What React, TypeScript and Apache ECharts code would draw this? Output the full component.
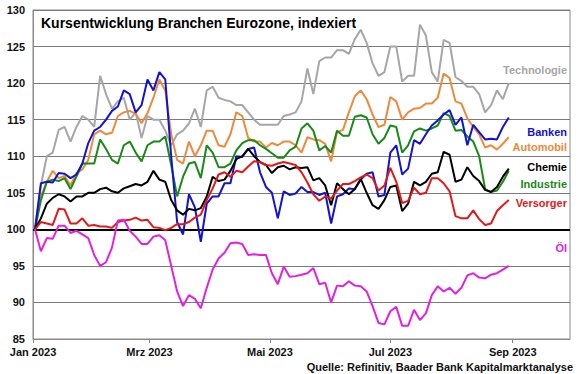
import React, { useEffect, useRef } from "react";
import * as echarts from "echarts";

const sampleDates = [
  "2023-01-02", "2023-01-05", "2023-01-08", "2023-01-11", "2023-01-14", "2023-01-17", "2023-01-20", "2023-01-23", "2023-01-26", "2023-01-29",
  "2023-02-01", "2023-02-04", "2023-02-07", "2023-02-10", "2023-02-13", "2023-02-16", "2023-02-19", "2023-02-22", "2023-02-25", "2023-02-28",
  "2023-03-03", "2023-03-06", "2023-03-09", "2023-03-12", "2023-03-15", "2023-03-18", "2023-03-21", "2023-03-24", "2023-03-27", "2023-03-30",
  "2023-04-02", "2023-04-05", "2023-04-08", "2023-04-11", "2023-04-14", "2023-04-17", "2023-04-20", "2023-04-23", "2023-04-26", "2023-04-29",
  "2023-05-02", "2023-05-05", "2023-05-08", "2023-05-11", "2023-05-14", "2023-05-17", "2023-05-20", "2023-05-23", "2023-05-26", "2023-05-29",
  "2023-06-01", "2023-06-04", "2023-06-07", "2023-06-10", "2023-06-13", "2023-06-16", "2023-06-19", "2023-06-22", "2023-06-25", "2023-06-28",
  "2023-07-01", "2023-07-04", "2023-07-07", "2023-07-10", "2023-07-13", "2023-07-16", "2023-07-19", "2023-07-22", "2023-07-25", "2023-07-28",
  "2023-07-31", "2023-08-03", "2023-08-06", "2023-08-09", "2023-08-12", "2023-08-15", "2023-08-18", "2023-08-21", "2023-08-24", "2023-08-27",
  "2023-08-30",
];

const technologie = [
  100, 106, 110, 110.5, 113.6, 114, 112, 114, 115.5, 115,
  114, 121, 118.5, 116.5, 117.5, 118, 115, 116, 112.5, 115.5,
  115, 115, 113.5, 111.5, 113, 113.5, 114.5, 116.5, 114, 119,
  119.5, 118, 117.7, 117.5, 117, 117, 116, 115, 114.3, 114.3,
  114.3, 114.3, 115.5, 115.7, 116, 117.5, 122, 118.5, 123, 123.5,
  123.5, 124.5, 124.5, 124, 126, 127.3, 125.5, 122.7, 121, 121.5,
  125, 125, 120.2, 121, 121, 128, 126.5, 121.5, 120.2, 125.9,
  125.5, 120.8, 120.3, 119.5, 119.5, 118.5, 116, 117, 119, 117.8,
  120,
];

const banken = [
  100, 106.3, 106.5, 106.4, 107.7, 107.6, 107, 107.5, 109, 111.8,
  113.5, 114, 115, 116.2, 116.8, 119, 118.5, 116, 117, 120.5,
  119, 121.5, 120.5, 110, 101, 99.3, 104.8, 103, 98.3, 103.5,
  104.5, 104.5, 106.3, 106.3, 110, 109.9, 111, 111.2, 107.8, 105.8,
  105, 101.5, 105.2, 104.7, 104.9, 105.8, 105.1, 105.1, 104.7, 105,
  100.8, 104.5, 104.8, 105.6, 105.5, 106.8, 107.6, 107.8, 104.5, 104.7,
  110.5, 111.5, 107.5, 108.3, 112.2, 111.7, 113, 114.2, 114.9, 115.7,
  116.3, 114.3, 115.3, 111.5, 114.3, 113.3, 112.3, 112.4, 112.3, 114,
  115.3,
];

const automobil = [
  100, 104.5, 106.5, 108, 107, 107.3, 106, 107.7, 108.2, 109.5,
  113, 113.5, 113, 113.2, 115.5, 116, 116.2, 115.8, 114.5, 115.9,
  118, 120.5, 119, 113, 109.5, 109, 112, 110, 111.5, 113.5,
  113.5, 111.5, 111.3, 113, 116, 115.5, 112.5, 112, 112, 111.2,
  111.8, 111.5, 112, 112, 111.5, 110.5, 112.6, 112.3, 112.2, 111.7,
  109.3, 113.3, 113.6, 116, 118.2, 119, 117.8, 115.7, 114, 114.3,
  118.1, 117.5, 115, 116, 116.5, 116.6, 117.2, 117.2, 118, 121.3,
  120.7, 117.5, 117.2, 115.2, 114, 113, 111.2, 111.5, 110.9, 111.7,
  112.6,
];

const chemie = [
  100, 101.5, 103.5, 104.3, 104.8, 104.5, 103.8, 104.5, 104.5, 105,
  105, 105.5, 105.7, 105.2, 105, 105.6, 105.9, 106.2, 106, 106.5,
  108, 106.8, 106.5, 104, 102.6, 102, 102.8, 102.6, 102.9, 104.5,
  107.2, 106.6, 106.8, 108, 109.6, 110, 111, 110, 109.2, 108.8,
  107.7, 108.5, 108.7, 108.2, 108.5, 108.4, 108.5, 106.7, 107, 106,
  103.3, 106.3, 105.5, 104.8, 105.5, 106.9, 105, 103.3, 102.8, 104,
  105.8, 106, 102.5, 103.5, 106.5, 106, 106.5, 107.6, 107.8, 110.6,
  110.2, 106.5, 106.8, 108.5, 107.3, 106.6, 105.4, 105.1, 105.8, 107.2,
  108.3,
];

const industrie = [
  100, 104, 106.5, 106.8, 106.6, 107, 105.5, 107.2, 109, 109,
  109, 112.3, 111, 109.5, 109, 111.5, 112, 110.5, 109.3, 111.5,
  112, 112, 112.7, 108.8, 104.5, 107.2, 109, 109.2, 107, 111.5,
  110.5, 108.5, 108.5, 109, 110.8, 111.8, 112.2, 112.2, 111.5, 111,
  110.4, 109.8, 109.8, 110.8, 111.3, 113.8, 114.5, 113.5, 110.8, 111.4,
  110.5, 113.5, 112.8, 112.8, 115.4, 115.6, 115.3, 113, 111.7, 112.5,
  114.2, 114, 110.5, 111.5, 113.4, 113.8, 113.5, 113.8, 114.2, 115.9,
  115.5, 113.5, 113.6, 112.7, 112, 110, 105.5, 105.1, 105.3, 106.5,
  108,
];

const versorger = [
  100, 101, 100.8, 100.6, 102.8, 102.7, 100.8, 100.8, 101.5, 100.5,
  100.6, 100.4, 100.4, 100.2, 101, 101.2, 101.3, 101.6, 101.2, 101.3,
  100.3, 100.2, 99.9, 100.2, 100.7, 100.7, 101, 101.6, 102, 104,
  105.6, 107.5, 107.8, 107.2, 108, 107.8, 108.6, 109.3, 109.2, 108.8,
  108.7, 109, 109.2, 109, 108.8, 107.8, 106.4, 104.8, 103.9, 104.5,
  104.2, 105.3, 106.2, 106.2, 106.6, 107.1, 107.5, 107, 105.3, 106,
  108.4, 106.5, 103.6, 103.9, 105.7, 104.8, 105, 107, 107, 106.3,
  105.2, 101.8, 101.5, 101.5, 102.6, 101.4, 100.6, 100.8, 102.5, 103.3,
  104,
];

const oel = [
  100, 97, 98.8, 98.7, 100.5, 100.5, 99.5, 99.8, 99.3, 98.8,
  96.5, 95, 95.5, 97.5, 101.2, 101.3, 99.8, 99, 98, 98,
  99, 99.2, 98.5, 95, 91.5, 89.5, 91, 90.5, 89.2, 92,
  94.5, 96, 96.8, 98.1, 98.2, 98, 96.5, 96.6, 96.5, 96.5,
  94, 92.5, 94.9, 93.5, 93.6, 93.8, 94, 94.7, 92.5, 92.7,
  90, 92.3, 92.2, 92.9, 92.3, 92.2, 91.5, 89.5, 87.2, 87,
  88.8, 89.4, 86.8, 86.8, 89, 87.6, 88.5, 91, 92.2, 91.5,
  92, 91.2, 92, 93.7, 94, 93.4, 93.3, 93.8, 94, 94.5,
  95,
];

const tickMonths = ["2023-01-01", "2023-03-01", "2023-05-01", "2023-07-01", "2023-09-01"];
const tickLabels = ["Jan 2023", "Mrz 2023", "Mai 2023", "Jul 2023", "Sep 2023"];
const axisStart = "2023-01-01";
const axisEnd = "2023-09-30";

const seriesNames = ["Technologie", "Automobil", "Industrie", "Banken", "Chemie", "Versorger", "Öl"];
const seriesColors = ["#a6a6a6", "#ee8a3c", "#178a17", "#1212d2", "#000000", "#e01a1a", "#e022e0"];
const seriesValues = [technologie, automobil, industrie, banken, chemie, versorger, oel];
const labelY = [70, 147, 184, 132, 167, 203, 248];

const FONT = "'Liberation Sans', Arial, sans-serif";

function dayList(start: string, end: string): string[] {
  const out: string[] = [];
  let t = Date.parse(start + "T00:00:00Z");
  const e = Date.parse(end + "T00:00:00Z");
  while (t <= e) {
    out.push(new Date(t).toISOString().slice(0, 10));
    t += 86400000;
  }
  return out;
}

export default function App() {
  const ref = useRef<HTMLDivElement>(null);
  useEffect(() => {
    const chart = echarts.init(ref.current!, null, { renderer: "svg" });
    const days = dayList(axisStart, axisEnd);
    const isTick = (_i: number, v: string) => tickMonths.indexOf(v) >= 0;

    const series: any[] = seriesNames.map((name, k) => ({
      type: "line",
      name,
      data: sampleDates.map((d, i) => [d, seriesValues[k][i]]),
      showSymbol: false,
      symbol: "none",
      lineStyle: { color: seriesColors[k], width: 2 },
      itemStyle: { color: seriesColors[k] },
      z: 3 + k,
      silent: true,
    }));
    series[0].markLine = {
      silent: true,
      symbol: ["none", "none"],
      label: { show: false },
      lineStyle: { color: "#000", width: 2, type: "solid" },
      data: [{ yAxis: 100 }],
      z: 2,
    };

    const graphics: any[] = [
      {
        type: "text",
        x: 41,
        y: 23,
        style: {
          text: "Kursentwicklung Branchen Eurozone, indexiert",
          fill: "#000",
          font: `bold 14px ${FONT}`,
          align: "left",
          verticalAlign: "middle",
        },
      },
      {
        type: "text",
        x: 573,
        y: 367,
        style: {
          text: "Quelle: Refinitiv, Baader Bank Kapitalmarktanalyse",
          fill: "#111",
          font: `bold 11px ${FONT}`,
          align: "right",
          verticalAlign: "middle",
        },
      },
      ...seriesNames.map((name, k) => ({
        type: "text",
        x: 567,
        y: labelY[k],
        style: {
          text: name,
          fill: seriesColors[k],
          font: `bold 11px ${FONT}`,
          align: "right",
          verticalAlign: "middle",
        },
      })),
    ];

    chart.setOption({
      animation: false,
      backgroundColor: "#ffffff",
      grid: {
        left: 33,
        right: 10,
        top: 10,
        bottom: 35,
        show: true,
        borderColor: "#8a8a8a",
        borderWidth: 1,
        containLabel: false,
      },
      xAxis: {
        type: "category",
        data: days,
        boundaryGap: false,
        axisLine: { show: true, lineStyle: { color: "#8a8a8a", width: 1 } },
        axisTick: { show: true, interval: isTick, length: 4, lineStyle: { color: "#8a8a8a" } },
        axisLabel: {
          interval: isTick,
          formatter: (v: string) => {
            const i = tickMonths.indexOf(v);
            return i >= 0 ? tickLabels[i] : "";
          },
          color: "#111",
          fontWeight: "bold",
          fontSize: 11,
          fontFamily: FONT,
          margin: 7,
        },
        splitLine: { show: false },
      },
      yAxis: {
        type: "value",
        min: 85,
        max: 130,
        interval: 5,
        axisLine: { show: true, lineStyle: { color: "#8a8a8a", width: 1 } },
        axisTick: { show: false },
        axisLabel: {
          color: "#111",
          fontWeight: "bold",
          fontSize: 11,
          fontFamily: FONT,
          margin: 8,
        },
        splitLine: { show: true, lineStyle: { color: "#7a7a7a", width: 1 } },
      },
      series,
      graphic: graphics,
    });
    return () => chart.dispose();
  }, []);
  return <div ref={ref} style={{ position: "fixed", left: 0, top: 0, width: 580, height: 374 }} />;
}
